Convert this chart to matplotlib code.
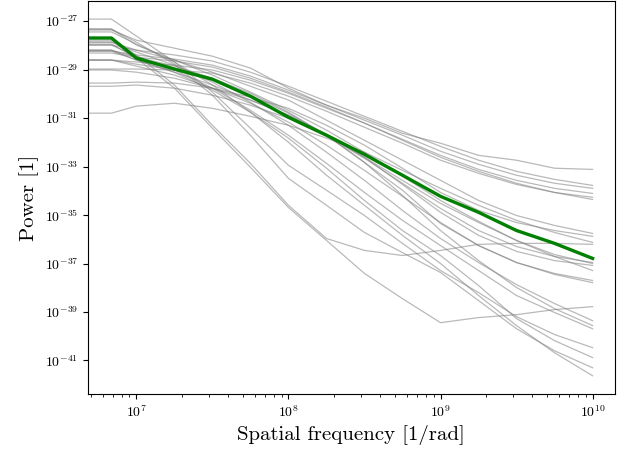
import numpy as np
import matplotlib
matplotlib.use("Agg")
import matplotlib.pyplot as plt
from matplotlib.ticker import LogLocator, NullLocator

plt.rcParams['font.family'] = 'serif'
plt.rcParams['font.serif'] = ['cmr10']
plt.rcParams['mathtext.fontset'] = 'cm'
plt.rcParams['axes.formatter.use_mathtext'] = True
plt.rcParams['axes.unicode_minus'] = False

# spatial frequency [1/rad]
freq = [4.8e6, 6.85e6, 1e7, 1.78e7, 3.16e7, 5.62e7, 1e8, 1.78e8, 3.16e8,
        5.62e8, 1e9, 1.78e9, 3.16e9, 5.62e9, 1e10]

# log10 of power for each individual spectrum (grey)
spec_01 = [-27.37, -27.37, -27.79, -28.12, -28.45, -28.94, -29.77, -30.47, -31.01, -31.63, -32.04, -32.54, -32.74, -33.07, -33.12]
spec_02 = [-27.99, -27.99, -28.20, -28.40, -28.65, -29.11, -29.69, -30.31, -30.93, -31.55, -32.17, -32.74, -33.20, -33.53, -33.78]
spec_03 = [-28.24, -28.24, -28.40, -28.57, -28.82, -29.27, -29.85, -30.47, -31.09, -31.71, -32.37, -32.91, -33.36, -33.69, -33.90]
spec_04 = [-28.61, -28.61, -28.69, -28.82, -29.02, -29.44, -29.98, -30.60, -31.21, -31.88, -32.54, -33.12, -33.57, -33.90, -34.11]
spec_05 = [-28.98, -28.98, -28.98, -29.02, -29.15, -29.56, -30.10, -30.72, -31.38, -32.04, -32.74, -33.28, -33.74, -34.07, -34.27]
spec_06 = [-28.32, -28.32, -28.49, -28.65, -28.90, -29.36, -29.93, -30.55, -31.21, -31.92, -32.62, -33.20, -33.69, -34.07, -34.36]
spec_07 = [-27.87, -27.87, -28.20, -28.61, -29.11, -29.69, -30.26, -31.09, -31.92, -32.74, -33.57, -34.40, -35.02, -35.43, -35.76]
spec_08 = [-30.80, -30.80, -30.51, -30.39, -30.60, -30.93, -31.30, -31.83, -32.41, -33.16, -33.90, -34.60, -35.22, -35.72, -36.13]
spec_09 = [-27.79, -27.79, -28.40, -29.64, -31.30, -32.87, -34.60, -35.97, -36.46, -36.67, -36.46, -36.21, -36.17, -36.17, -36.21]
spec_10 = [-27.95, -27.95, -28.53, -29.77, -31.42, -33.03, -34.69, -36.05, -37.41, -38.45, -39.44, -39.23, -39.11, -38.90, -38.78]
spec_11 = [-28.20, -28.20, -28.61, -29.11, -29.64, -30.26, -30.88, -31.71, -32.62, -33.57, -34.52, -35.31, -36.05, -36.63, -37.00]
spec_12 = [-27.33, -27.33, -27.99, -28.61, -29.23, -29.93, -30.68, -31.50, -32.41, -33.40, -34.40, -35.26, -36.05, -36.71, -37.29]
spec_13 = [-28.61, -28.61, -28.86, -29.23, -29.77, -30.39, -31.17, -32.12, -33.16, -34.23, -35.31, -36.26, -36.96, -37.45, -37.79]
spec_14 = [-26.92, -26.92, -27.62, -28.69, -29.93, -31.42, -32.95, -33.98, -35.02, -36.17, -37.29, -38.20, -39.19, -39.93, -40.47]
spec_15 = [-27.87, -27.87, -28.28, -28.82, -29.52, -30.35, -31.30, -32.41, -33.57, -34.81, -35.97, -36.96, -37.87, -38.65, -39.36]
spec_16 = [-27.45, -27.45, -27.95, -28.69, -29.64, -30.76, -32.00, -33.36, -34.60, -35.84, -37.00, -38.32, -39.56, -40.68, -41.63]
spec_17 = [-28.24, -28.24, -28.61, -29.11, -29.85, -30.76, -31.83, -33.07, -34.40, -35.64, -36.67, -37.91, -39.27, -40.18, -40.88]
spec_18 = [-27.99, -27.99, -28.45, -29.02, -29.77, -30.68, -31.71, -32.87, -34.07, -35.22, -36.26, -37.29, -38.32, -39.02, -39.69]
spec_19 = [-27.33, -27.33, -27.87, -28.78, -30.06, -31.71, -33.49, -34.60, -35.72, -36.55, -37.37, -38.53, -39.69, -40.60, -41.30]
spec_20 = [-28.61, -28.61, -28.78, -29.02, -29.44, -30.06, -30.80, -31.71, -32.83, -34.19, -35.64, -36.88, -37.99, -38.86, -39.56]
spec_21 = [-29.56, -29.56, -29.52, -29.56, -29.77, -30.14, -30.60, -31.30, -32.12, -33.07, -34.07, -34.81, -35.31, -35.64, -35.88]
spec_22 = [-29.69, -29.69, -29.64, -29.77, -30.06, -30.47, -31.01, -31.75, -32.66, -33.69, -34.73, -35.64, -36.30, -36.71, -36.96]
spec_23 = [-29.02, -29.02, -29.11, -29.36, -29.77, -30.26, -30.88, -31.67, -32.62, -33.74, -34.89, -35.84, -36.50, -36.88, -37.08]
spec_24 = [-28.20, -28.20, -28.49, -28.86, -29.36, -29.98, -30.76, -31.71, -32.83, -33.98, -35.35, -36.26, -36.96, -37.41, -37.70]

# log10 of the averaged spectrum (green)
mean_spec = [-27.70, -27.70, -28.53, -28.98, -29.40, -30.10, -30.97, -31.71, -32.50, -33.36, -34.23, -34.89, -35.64, -36.17, -36.79]

spectra = [spec_01, spec_02, spec_03, spec_04, spec_05, spec_06, spec_07, spec_08,
           spec_09, spec_10, spec_11, spec_12, spec_13, spec_14, spec_15, spec_16,
           spec_17, spec_18, spec_19, spec_20, spec_21, spec_22, spec_23, spec_24]

fig = plt.figure(figsize=(6.28, 4.5), dpi=100)
ax = fig.add_axes([0.140, 0.124, 0.839, 0.874])

for s in spectra:
    ax.plot(freq, 10.0 ** np.array(s), color='gray', alpha=0.55, lw=0.9)
ax.plot(freq, 10.0 ** np.array(mean_spec), color='green', lw=2.4)

ax.set_xscale('log')
ax.set_yscale('log')
ax.set_xlim(4.8e6, 1.4e10)
ax.set_ylim(10 ** -42.39, 10 ** -26.17)
ax.set_yticks([10.0 ** e for e in range(-41, -26, 2)])
ax.yaxis.set_minor_locator(NullLocator())
ax.xaxis.set_minor_locator(LogLocator(base=10, subs=np.arange(2, 10), numticks=20))

ax.tick_params(which='major', length=3.5, width=0.8, labelsize=10)
ax.tick_params(which='minor', length=2, width=0.6)

ax.set_xlabel('Spatial frequency [1/rad]', fontsize=15)
ax.set_ylabel('Power [1]', fontsize=15)

plt.savefig('out.png', dpi=100)
plt.close()
